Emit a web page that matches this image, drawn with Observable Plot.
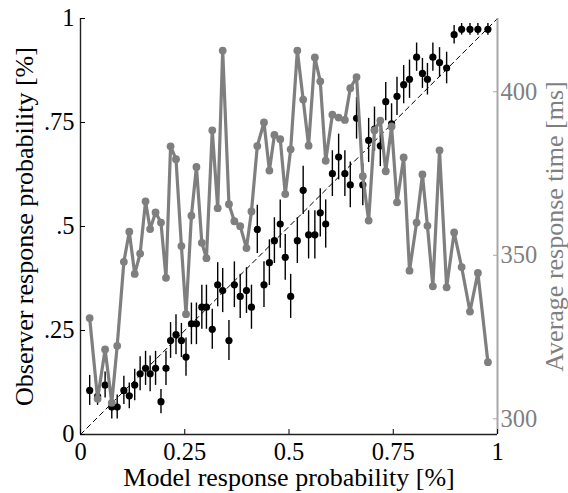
<!DOCTYPE html>
<html>
<head>
<meta charset="utf-8">
<script src="https://cdn.jsdelivr.net/npm/d3@7"></script>
<script src="https://cdn.jsdelivr.net/npm/@observablehq/plot@0.6"></script>
<style>
  html, body { margin: 0; padding: 0; background: white; }
  #chart { width: 568px; height: 493px; }
  #chart svg, #chart svg text, #chart svg tspan { font-family: "Liberation Serif", "DejaVu Serif", "Times New Roman", serif !important; }
</style>
</head>
<body>
<div id="chart"></div>
<script>
// Model response probability (x) shared by both series
const modelProb = [0.022,0.041,0.059,0.075,0.088,0.104,0.117,0.130,0.143,0.156,0.167,0.180,0.193,0.205,0.216,0.229,0.242,0.253,0.266,0.278,0.291,0.302,0.316,0.329,0.341,0.356,0.369,0.383,0.398,0.410,0.424,0.440,0.453,0.465,0.479,0.491,0.504,0.520,0.534,0.547,0.562,0.575,0.588,0.604,0.619,0.634,0.647,0.662,0.677,0.691,0.705,0.719,0.732,0.746,0.759,0.775,0.789,0.806,0.820,0.832,0.845,0.861,0.878,0.896,0.914,0.934,0.953,0.977];
// Observer response probability (black points)
const observerProb = [0.106,0.092,0.119,0.066,0.066,0.106,0.093,0.119,0.146,0.159,0.146,0.159,0.079,0.159,0.226,0.240,0.226,0.186,0.266,0.266,0.306,0.306,0.253,0.360,0.346,0.226,0.360,0.332,0.346,0.306,0.493,0.360,0.413,0.466,0.506,0.426,0.332,0.466,0.587,0.480,0.480,0.533,0.506,0.627,0.667,0.627,0.600,0.760,0.600,0.707,0.734,0.694,0.800,0.747,0.813,0.841,0.854,0.907,0.868,0.854,0.907,0.894,0.881,0.961,0.974,0.974,0.974,0.974];
// Error (half-length) of observer probability
const observerErr = [0.036,0.022,0.031,0.029,0.029,0.034,0.031,0.038,0.041,0.041,0.043,0.041,0.029,0.041,0.043,0.048,0.041,0.046,0.050,0.050,0.053,0.053,0.048,0.053,0.053,0.048,0.055,0.053,0.055,0.053,0.058,0.055,0.055,0.055,0.058,0.055,0.053,0.055,0.058,0.058,0.058,0.058,0.058,0.055,0.055,0.055,0.055,0.050,0.050,0.053,0.053,0.050,0.046,0.048,0.046,0.046,0.046,0.034,0.036,0.038,0.034,0.036,0.038,0.022,0.014,0.014,0.014,0.014];
// Average response time in ms (gray line)
const responseTime = [330.8,306.1,321.2,304.9,322.3,348.0,357.2,344.3,350.5,366.5,358.0,363.1,360.0,343.1,383.3,379.4,352.8,332.0,362.1,377.0,353.8,349.1,388.2,364.4,412.6,365.6,360.4,358.9,352.2,363.4,383.4,390.6,375.9,386.8,385.5,368.7,382.4,412.6,397.6,383.5,410.5,403.2,378.9,393.0,392.1,391.4,401.1,404.5,374.2,360.6,388.2,391.2,375.7,389.4,366.2,379.9,345.3,360.0,374.7,359.0,340.5,382.1,340.2,357.0,346.4,332.8,344.6,317.3];

const xDomain = [0, 1];
const yDomain = [0, 1];
const rtDomain = [295.2, 422.4];
const xTicks = [0, 0.25, 0.5, 0.75, 1];
const xTickLabels = ["0", "0.25", "0.5", "0.75", "1"];
const yTicks = [0, 0.25, 0.5, 0.75, 1];
const yTickLabels = ["0", ".25", ".5", ".75", "1"];
const rtTicks = [300, 350, 400];

const GRAY = "#7f7f7f";
const FONT = "'Liberation Serif', 'DejaVu Serif', serif";
const TICK_FS = 24.5;
const LABEL_FS = 26;
const toY = ms => (ms - rtDomain[0]) / (rtDomain[1] - rtDomain[0]);
const fromY = v => v * (rtDomain[1] - rtDomain[0]) + rtDomain[0];

const data = modelProb.map((x, i) => ({
  x, y: observerProb[i], e: observerErr[i], rt: responseTime[i]
}));

const chart = Plot.plot({
  width: 568,
  height: 493,
  marginLeft: 80,
  marginRight: 71,
  marginTop: 18,
  marginBottom: 59,
  style: {fontSize: TICK_FS + "px", background: "white", color: "black"},
  x: {domain: xDomain},
  y: {domain: yDomain},
  marks: [
    Plot.line(xDomain.map(d => ({x: d, y: d})), {x: "x", y: "y", stroke: "black", strokeWidth: 1, strokeDasharray: "5,4"}),
    Plot.ruleX(data, {x: "x", y1: d => d.y - d.e, y2: d => d.y + d.e, stroke: "black", strokeWidth: 1.4}),
    Plot.dot(data, {x: "x", y: "y", r: 3.6, fill: "black", stroke: "none"}),
    Plot.line(data, {x: "x", y: d => toY(d.rt), stroke: GRAY, strokeWidth: 3.2}),
    Plot.dot(data, {x: "x", y: d => toY(d.rt), r: 3.9, fill: GRAY, stroke: "none"}),
    Plot.ruleX([xDomain[1]], {stroke: "#a8a8a8", strokeWidth: 2}),
    Plot.ruleX([xDomain[0]], {stroke: "#222", strokeWidth: 1.4}),
    Plot.ruleY([yDomain[0]], {stroke: "#222", strokeWidth: 1.4}),
    Plot.axisX({ticks: xTicks, tickFormat: d => xTickLabels[xTicks.indexOf(d)], tickSize: -5, tickPadding: 13.5,
      fontFamily: FONT, fontSize: TICK_FS, label: null}),
    Plot.axisX({ticks: [], label: "Model response probability [%]", labelAnchor: "center", labelArrow: false,
      labelOffset: 51, fontFamily: FONT, fontSize: LABEL_FS}),
    Plot.axisY({ticks: yTicks, tickFormat: d => yTickLabels[yTicks.indexOf(d)], tickSize: -5, tickPadding: 11,
      fontFamily: FONT, fontSize: TICK_FS, label: null}),
    Plot.axisY({ticks: [], label: "Observer response probability [%]", labelAnchor: "center", labelArrow: false,
      labelOffset: 66, fontFamily: FONT, fontSize: LABEL_FS}),
    Plot.axisY({anchor: "right", ticks: rtTicks.map(toY), tickFormat: d => Math.round(fromY(d)), tickSize: -5, tickPadding: 8,
      fontFamily: FONT, fontSize: TICK_FS, color: GRAY, stroke: "#a8a8a8", label: null}),
    Plot.axisY({anchor: "right", ticks: [], label: "Average response time [ms]", labelAnchor: "center", labelArrow: false,
      labelOffset: 65, fontFamily: FONT, fontSize: LABEL_FS, color: GRAY})
  ]
});
document.getElementById("chart").appendChild(chart);
</script>
</body>
</html>
